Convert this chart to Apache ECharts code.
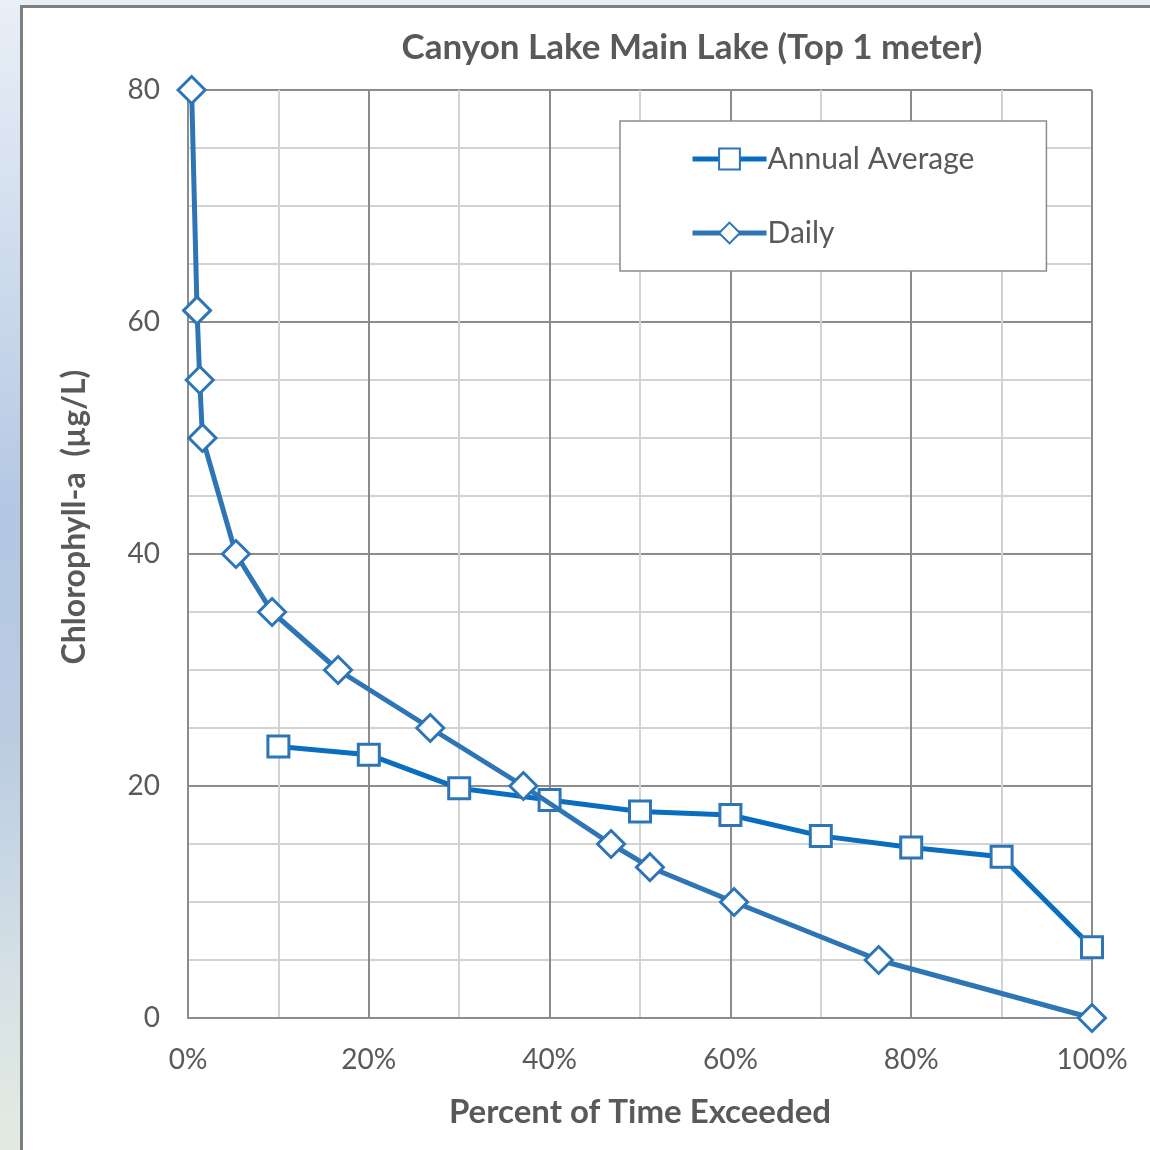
<!DOCTYPE html>
<html>
<head>
<meta charset="utf-8">
<script src="https://cdn.jsdelivr.net/npm/echarts@6/dist/echarts.min.js"></script>
<style>
  html, body { margin: 0; padding: 0; width: 1150px; height: 1150px; overflow: hidden; }
  body {
    background: linear-gradient(to bottom, #e9eff7 0%, #d2deee 20%, #b3c7e3 45%, #bccde2 65%, #d6e1e6 85%, #e3ebe1 100%);
    position: relative;
  }
  #frame {
    position: absolute; left: 20px; top: 5px; width: 1140px; height: 1160px;
    background: #ffffff; border-left: 3px solid #7f7f7f; border-top: 3px solid #7f7f7f;
  }
  #chart { position: absolute; left: 0; top: 0; width: 1150px; height: 1150px; }
</style>
</head>
<body>
<div id="frame"></div>
<div id="chart"></div>
<script>
// Exceedance curves of chlorophyll-a, Canyon Lake main lake, top 1 m
const titleText = 'Canyon Lake Main Lake (Top 1 meter)';
const xAxisName = 'Percent of Time Exceeded';
const yAxisName = 'Chlorophyll-a  (\u00b5g/L)';
const seriesNames = ['Annual Average', 'Daily'];

// Annual average: percent of time exceeded (%) and chlorophyll-a (µg/L)
const annualPct = [10, 20, 30, 40, 50, 60, 70, 80, 90, 100];
const annualChl = [23.4, 22.7, 19.8, 18.8, 17.8, 17.5, 15.7, 14.7, 13.9, 6.1];

// Daily values
const dailyPct = [0.4, 1.0, 1.3, 1.6, 5.3, 9.3, 16.6, 26.8, 37.1, 46.8, 51.1, 60.4, 76.4, 100];
const dailyChl = [80, 61, 55, 50, 40, 35, 30, 25, 20, 15, 13, 10, 5, 0];

const textColor = '#595959';
const fontFamily = 'Lato, "Open Sans", sans-serif';
const pair = (xs, ys) => xs.map((x, i) => [x, ys[i]]);

const chart = echarts.init(document.getElementById('chart'), null, { renderer: 'canvas' });
chart.setOption({
  backgroundColor: 'transparent',
  animation: false,
  textStyle: { fontFamily: fontFamily, color: textColor },
  title: {
    text: titleText,
    left: 687, top: 25, textAlign: 'center',
    textStyle: { fontFamily: fontFamily, fontWeight: 'bold', fontSize: 35, color: textColor }
  },
  legend: {
    orient: 'vertical',
    left: 620, top: 121,
    padding: [23, 72, 23, 70],
    itemGap: 44,
    itemWidth: 74, itemHeight: 26,
    backgroundColor: '#ffffff',
    borderColor: '#8c8c8c', borderWidth: 1.5,
    lineStyle: { width: 5 },
    textStyle: { fontFamily: fontFamily, fontSize: 30, color: textColor, padding: [0, 0, 0, -4] },
    data: seriesNames
  },
  grid: { left: 188, top: 90, width: 904, height: 928, containLabel: false },
  xAxis: {
    type: 'value', min: 0, max: 100, interval: 20,
    name: xAxisName, nameLocation: 'middle', nameGap: 78,
    nameTextStyle: { fontFamily: fontFamily, fontWeight: 'bold', fontSize: 33, color: textColor },
    axisLine: { show: true, lineStyle: { color: '#8c8c8c', width: 2 } },
    axisTick: { show: false },
    axisLabel: { formatter: v => v + '%', fontSize: 28, color: textColor, margin: 28 },
    splitLine: { show: true, lineStyle: { color: '#8c8c8c', width: 2 } },
    minorTick: { show: false, splitNumber: 2 },
    minorSplitLine: { show: true, lineStyle: { color: '#d3d3d3', width: 2 } }
  },
  yAxis: {
    type: 'value', min: 0, max: 80, interval: 20,
    name: yAxisName, nameLocation: 'middle', nameGap: 97, nameRotate: 90,
    nameTextStyle: { fontFamily: fontFamily, fontWeight: 'bold', fontSize: 32, color: textColor, padding: [0, 0, 0, 74] },
    axisLine: { show: true, lineStyle: { color: '#8c8c8c', width: 2 } },
    axisTick: { show: false },
    axisLabel: { fontSize: 28, color: textColor, margin: 28 },
    splitLine: { show: true, lineStyle: { color: '#8c8c8c', width: 2 } },
    minorTick: { show: false, splitNumber: 4 },
    minorSplitLine: { show: true, lineStyle: { color: '#d3d3d3', width: 2 } }
  },
  series: [
    {
      name: seriesNames[0], type: 'line',
      data: pair(annualPct, annualChl),
      symbol: 'rect', symbolSize: 21,
      lineStyle: { color: '#0a6ec0', width: 5 },
      itemStyle: { color: '#ffffff', borderColor: '#2e75b6', borderWidth: 3 },
      emphasis: { disabled: true }, z: 2
    },
    {
      name: seriesNames[1], type: 'line',
      data: pair(dailyPct, dailyChl),
      symbol: 'diamond', symbolSize: [27, 27],
      lineStyle: { color: '#2e75b6', width: 5 },
      itemStyle: { color: '#ffffff', borderColor: '#2e75b6', borderWidth: 3 },
      emphasis: { disabled: true }, z: 3
    }
  ]
});
</script>
</body>
</html>
